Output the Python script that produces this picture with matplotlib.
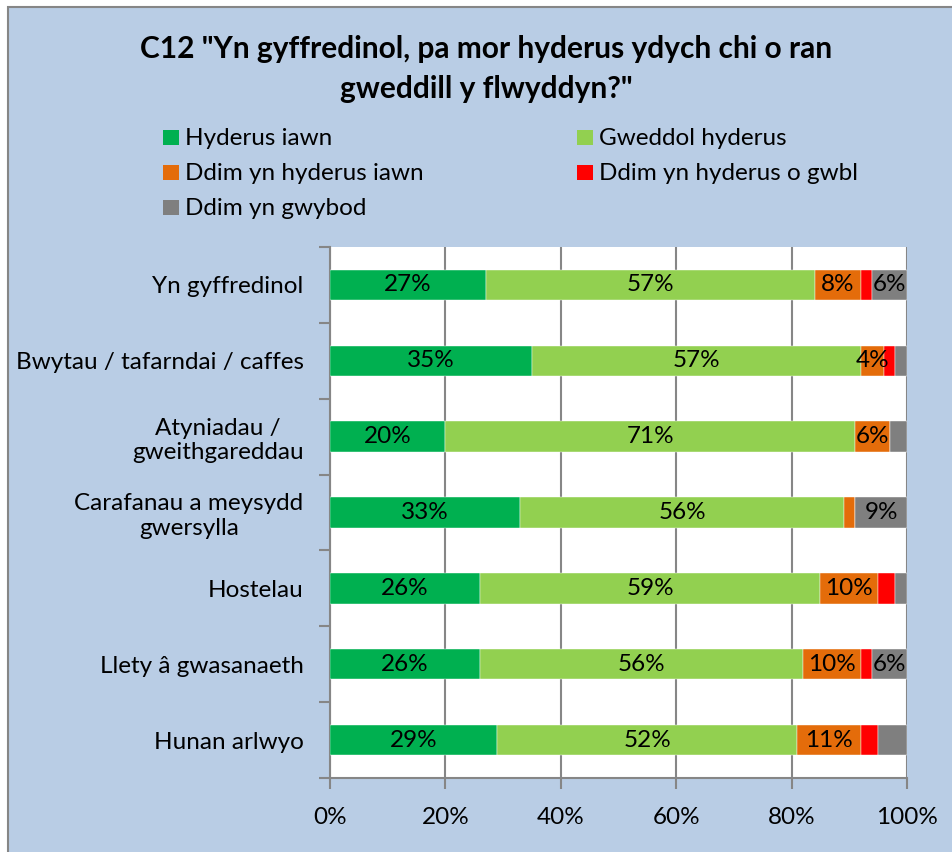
import matplotlib
matplotlib.use("Agg")
import matplotlib.pyplot as plt
from matplotlib.patches import Rectangle
import numpy as np

plt.rcParams['font.family'] = ['Lato', 'DejaVu Sans']

# ─────────────────────────────────────────
# DATA
# ─────────────────────────────────────────
categories = [
    "Yn gyffredinol",
    "Bwytau / tafarndai / caffes",
    "Atyniadau /\ngweithgareddau",
    "Carafanau a meysydd\ngwersylla",
    "Hostelau",
    "Llety â gwasanaeth",
    "Hunan arlwyo",
]
series_names = [
    "Hyderus iawn",
    "Gweddol hyderus",
    "Ddim yn hyderus iawn",
    "Ddim yn hyderus o gwbl",
    "Ddim yn gwybod",
]
hyderus_iawn = [27, 35, 20, 33, 26, 26, 29]
gweddol_hyderus = [57, 57, 71, 56, 59, 56, 52]
ddim_hyderus_iawn = [8, 4, 6, 2, 10, 10, 11]
ddim_hyderus_gwbl = [2, 2, 0, 0, 3, 2, 3]
ddim_gwybod = [6, 2, 3, 9, 2, 6, 5]
x_ticks = [0, 20, 40, 60, 80, 100]

colors = ["#00B050", "#92D050", "#E46C0A", "#FF0000", "#7F7F7F"]
bg = "#B9CDE5"
grid_c = "#868686"

values = [hyderus_iawn, gweddol_hyderus, ddim_hyderus_iawn,
          ddim_hyderus_gwbl, ddim_gwybod]
# labels removed in the original chart
hidden = {(6, 4)}

W, H = 953, 852
fig = plt.figure(figsize=(W / 100, H / 100), dpi=100, facecolor="white")

# chart area background with border
fig.patches.append(Rectangle((8 / W, -0.01), 1.0, (H - 7) / H + 0.01,
                             transform=fig.transFigure, facecolor=bg,
                             edgecolor=grid_c, linewidth=1.5, zorder=-10))

ax = fig.add_axes([330 / W, 1 - 778 / H, 577 / W, 531 / H])
ax.set_facecolor("white")

y = np.arange(len(categories))
left = np.zeros(len(categories))
for s, (vals, col) in enumerate(zip(values, colors)):
    vals = np.array(vals, dtype=float)
    ax.barh(y, vals, left=left, height=0.4, color=col, zorder=3,
            edgecolor="white", linewidth=0.3)
    for i, v in enumerate(vals):
        if v >= 4 and (i, s) not in hidden:
            ax.text(left[i] + v / 2, y[i], f"{int(v)}%", ha="center",
                    va="center", fontsize=17.5, color="black", zorder=4)
    left += vals

ax.set_xlim(0, 100)
ax.set_ylim(6.5, -0.5)
ax.set_xticks(x_ticks)
ax.set_xticklabels([f"{t}%" for t in x_ticks], fontsize=17.5)
ax.set_yticks(y)
ax.set_yticklabels(categories, fontsize=17.5, multialignment="center")
ax.set_yticks(np.arange(-0.5, 7, 1), minor=True)
ax.tick_params(axis="y", which="major", length=0, pad=19)
ax.tick_params(axis="y", which="minor", length=8, width=1.5, color=grid_c)
ax.tick_params(axis="x", length=8, width=1.5, color=grid_c, pad=13)
ax.grid(axis="x", color=grid_c, linewidth=1.5, zorder=1)
for side in ["top", "right"]:
    ax.spines[side].set_visible(False)
for side in ["left", "bottom"]:
    ax.spines[side].set_color(grid_c)
    ax.spines[side].set_linewidth(1.5)

# title
fig.text(486 / W, 1 - 69 / H,
         'C12 "Yn gyffredinol, pa mor hyderus ydych chi o ran\ngweddill y flwyddyn?"',
         ha="center", va="center", fontsize=21.5, fontweight="bold",
         linespacing=1.5)

# legend (row-major, two columns); positions are marker top-left / text baseline
leg_pos = [(163, 130), (577, 130), (163, 165), (577, 165), (163, 200)]
for name, col, (lx, ly) in zip(series_names, colors, leg_pos):
    fig.patches.append(Rectangle((lx / W, 1 - (ly + 15) / H), 16 / W, 15 / H,
                                 transform=fig.transFigure, facecolor=col,
                                 edgecolor="none", zorder=2))
    fig.text((lx + 22) / W, 1 - (ly + 15) / H, name, ha="left",
             va="baseline", fontsize=17.5)

fig.savefig("out.png", dpi=100, facecolor=fig.get_facecolor())
